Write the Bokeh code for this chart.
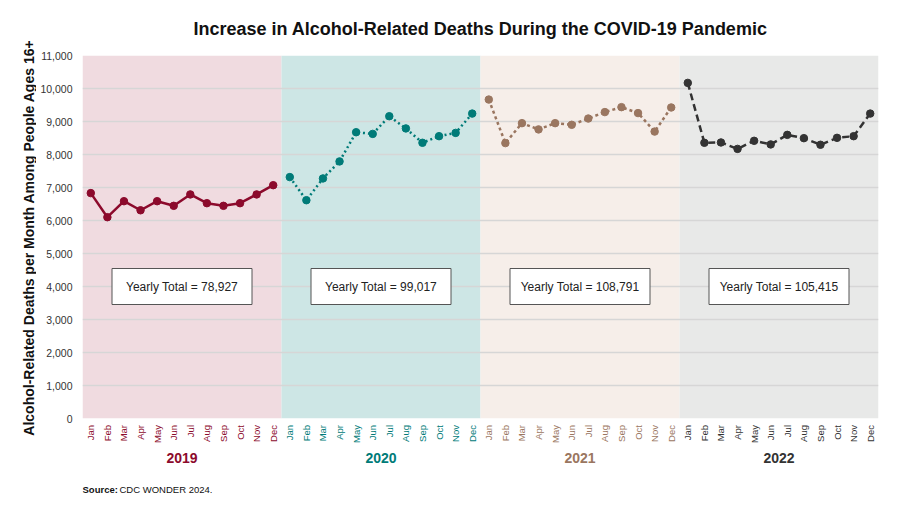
import numpy as np

from bokeh.plotting import figure
from bokeh.layouts import column, row
from bokeh.models import Range1d, FixedTicker, NumeralTickFormatter, ColumnDataSource
from bokeh.core.properties import value
from bokeh.embed import file_html
from bokeh.resources import INLINE

#-------------- data ----------#
years = ["2019", "2020", "2021", "2022"]
months = ["Jan", "Feb", "Mar", "Apr", "May", "Jun", "Jul", "Aug", "Sep", "Oct", "Nov", "Dec"]

deaths_2019 = [6830, 6100, 6585, 6310, 6585, 6445, 6790, 6525, 6445, 6525, 6790, 7070]
deaths_2020 = [7315, 6615, 7275, 7790, 8675, 8625, 9160, 8790, 8355, 8555, 8655, 9240]
deaths_2021 = [9665, 8345, 8950, 8760, 8950, 8900, 9090, 9285, 9435, 9255, 8695, 9425]
deaths_2022 = [10170, 8355, 8365, 8170, 8415, 8305, 8595, 8495, 8295, 8505, 8555, 9240]
deaths = [deaths_2019, deaths_2020, deaths_2021, deaths_2022]

totals = ["78,927", "99,017", "108,791", "105,415"]
y_label = "Alcohol-Related Deaths per Month Among People Ages 16+"
#------------------------------#

#------------- style ------------#
line_colors = ["#8c0a2c", "#007b78", "#9a7660", "#333333"]
bg_colors = ["#f0dbe0", "#cde6e5", "#f6eee9", "#e8e9e8"]
dashes = ["solid", "2 3", "3 3", "7 4"]
font = "Liberation Sans"
H = 498
LAB_W = 36                 # strip holding the y axis title
W = 884 - LAB_W
LEFT, RIGHT = 82 - LAB_W, 6
TOP_H = 424                # chart part; the rest holds month / year labels
#--------------------------------#

#------------- y axis title strip ------------#
s = figure(width=LAB_W, height=H, output_backend="svg", toolbar_location=None,
           x_range=Range1d(0, LAB_W), y_range=Range1d(H, 0),
           x_axis_location=None, y_axis_location=None,
           min_border_left=0, min_border_right=0, min_border_top=0, min_border_bottom=0)
s.outline_line_color = None
s.grid.grid_line_color = None
s.text(x=[28], y=[237], text=[y_label], angle=np.pi / 2, text_align="center",
       text_baseline="middle", text_font=value(font), text_font_size="14px",
       text_font_style="bold", text_color="#111111")
#---------------------------------------------#

#------------- main chart ------------#
p = figure(width=W, height=TOP_H, output_backend="svg", toolbar_location=None,
           x_range=Range1d(-0.5, 47.5), y_range=Range1d(0, 11000),
           title="Increase in Alcohol-Related Deaths During the COVID-19 Pandemic",
           min_border_left=LEFT, min_border_right=RIGHT, min_border_top=55,
           min_border_bottom=TOP_H - 418)

p.title.align = "center"
p.title.text_font = font
p.title.text_font_size = "18px"
p.title.text_color = "#111111"
p.title.standoff = 33
p.outline_line_color = None
p.xaxis.visible = False

p.yaxis.ticker = FixedTicker(ticks=list(range(0, 11001, 1000)))
p.yaxis.formatter = NumeralTickFormatter(format="0,0")
p.yaxis.axis_line_color = None
p.yaxis.major_tick_line_color = None
p.yaxis.major_tick_out = 0
p.yaxis.minor_tick_line_color = None
p.yaxis.major_label_text_font = font
p.yaxis.major_label_text_font_size = "10.5px"
p.yaxis.major_label_text_color = "#333333"
p.yaxis.major_label_standoff = 10

p.xgrid.grid_line_color = None
p.ygrid.grid_line_color = "#d6d6d6"
p.ygrid.grid_line_width = 1.5

for i, yr in enumerate(years):
    x0 = i * 12
    xs = np.arange(x0, x0 + 12)
    # year background panel
    p.quad(left=x0 - 0.5, right=x0 + 11.5, bottom=0, top=11000,
           fill_color=bg_colors[i], line_color=None, level="image")
    # monthly line
    p.line(xs, deaths[i], line_color=line_colors[i], line_width=2.5, line_dash=dashes[i])
    p.scatter(xs, deaths[i], size=7.5, fill_color=line_colors[i], line_color=line_colors[i])
    # yearly total box
    p.rect(x=[x0 + 5.5], y=[4000], width=140, height=36, width_units="screen", height_units="screen",
           fill_color="white", line_color="#555555", line_width=1)
    p.text(x=[x0 + 5.5], y=[4000], text=["Yearly Total = " + totals[i]],
           text_font=value(font), text_font_size="12px", text_color="#222222",
           text_align="center", text_baseline="middle")
#-------------------------------------#

#------------- month / year labels strip ------------#
# y of this strip is pixels down from its top edge
q = figure(width=W, height=H - TOP_H, output_backend="svg", toolbar_location=None,
           x_range=p.x_range, y_range=Range1d(H - TOP_H, 0),
           x_axis_location=None, y_axis_location=None,
           min_border_left=LEFT, min_border_right=RIGHT, min_border_top=0, min_border_bottom=0)
q.outline_line_color = None
q.grid.grid_line_color = None

tick_src = ColumnDataSource(dict(
    x=list(range(48)),
    y=[0.5] * 48,
    text=months * 4,
    color=[c for c in line_colors for _ in months],
))
q.text(x="x", y="y", text="text", source=tick_src, angle=np.pi / 2,
       text_align="right", text_baseline="middle", text_font=value(font),
       text_font_size="9.5px", text_color="color")

q.text(x=[i * 12 + 5.5 for i in range(4)], y=[33] * 4, text=years,
       text_align="center", text_baseline="middle", text_font=value(font),
       text_font_size="14px", text_font_style="bold", text_color=line_colors)

q.text(x=[-0.5], y=[65], text=["Source:"], text_align="left", text_baseline="middle",
       text_font=value(font), text_font_size="9.5px", text_font_style="bold", text_color="#111111")
q.text(x=[-0.5], y=[65], x_offset=37, text=["CDC WONDER 2024."], text_align="left",
       text_baseline="middle", text_font=value(font), text_font_size="9.5px", text_color="#111111")
#----------------------------------------------------#

layout = row(s, column(p, q, spacing=0), spacing=0)
open("out.html", "w").write(file_html(layout, INLINE))
